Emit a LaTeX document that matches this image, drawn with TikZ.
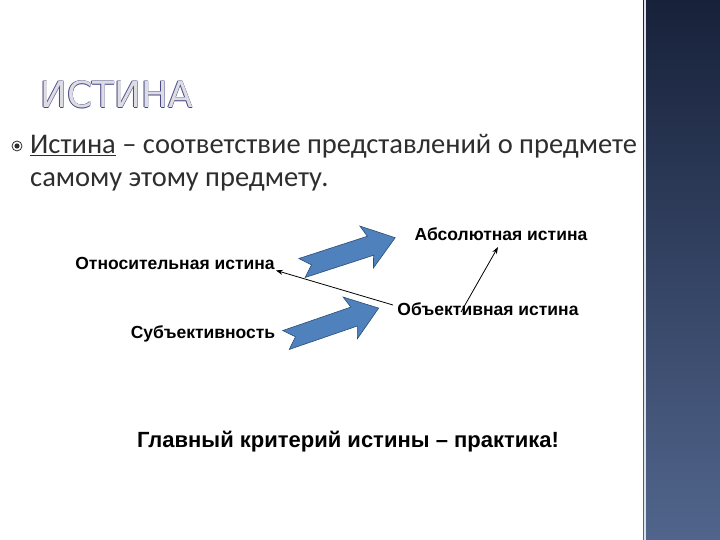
\documentclass[tikz,border=0pt]{standalone}
\usepackage{fontspec}
\setmainfont{Carlito}
\newfontfamily\lab{Liberation Sans}
\newfontfamily\ttl{DejaVu Sans}
\usetikzlibrary{arrows.meta}
\definecolor{txt}{HTML}{2E2E2E}
\definecolor{blk}{HTML}{4F81BD}
\definecolor{blkd}{HTML}{2C4D75}
\definecolor{navyA}{HTML}{17213A}
\definecolor{navyB}{HTML}{51658C}
\tikzset{lbl/.style={font=\lab\bfseries\fontsize{17.5}{19}\selectfont, text=black, inner sep=1pt},
 thin arr/.style={-{Stealth[length=7pt,width=5pt]}, line width=0.8pt, black},
 blockarr/.style={fill=blk, draw=blkd, line width=0.6pt}}
\newcommand{\blockarrow}[3]{% tail x,y, angle
 \begin{scope}[shift={(#1,#2)}, rotate=#3]
  \path[blockarr] (0,-10) -- (72,-10) -- (68,-22) -- (98,0) -- (68,22) -- (72,10) -- (0,10) -- (10,0) -- cycle;
 \end{scope}}
\begin{document}
\begin{tikzpicture}[x=1pt,y=-1pt]
\useasboundingbox (0,0) rectangle (720,540);
\fill[white] (0,0) rectangle (720,540);
\shade[top color=navyA, bottom color=navyB] (643,0) rectangle (720,540);
\draw[white!80!navyB, line width=1.5pt] (645,0) -- (645,540);
% title
\foreach \dx/\dy in {-0.7/0,0.7/0,0/-0.7,0/0.7}
  \node[anchor=base west, inner sep=0, text=gray!70!blue!80!black, font=\ttl\fontsize{36}{38}\selectfont] at (40+\dx,108+\dy) {ИСТИНА};
\node (title) [anchor=base west, inner sep=0, text=blue!10!gray!25, font=\ttl\fontsize{36}{38}\selectfont] at (40,108) {ИСТИНА};
% bullet
\node (bul) [circle, draw=txt, line width=0.8pt, minimum size=10pt, inner sep=0] at (17,146) {};
\fill[txt] (bul.center) circle (2.6pt);
\node (l1) [anchor=base west, inner sep=0, text=txt, font=\fontsize{28.5}{32}\selectfont] at (30,154) {\underline{Истина} – соответствие представлений о предмете};
\node (l2) [anchor=base west, inner sep=0, text=txt, font=\fontsize{28.5}{32}\selectfont] at (30,187) {самому этому предмету.};
% labels
\node[lbl] (abs) at (501,234) {Абсолютная истина};
\node[lbl] (otn) at (175,263) {Относительная истина};
\node[lbl] (obj) at (488,309) {Объективная истина};
\node[lbl] (sub) at (203,334) {Субъективность};
\node (main) [anchor=base, inner sep=0, font=\lab\bfseries\fontsize{22}{24}\selectfont] at (348,447) {Главный критерий истины – практика!};
% block arrows
\blockarrow{302}{268}{18}
\blockarrow{286}{340}{19}
% thin arrows
\coordinate (objL) at (393,305);
\coordinate (objU) at (461,312);
\draw[thin arr] (objL) -- (otn.south east);
\draw[thin arr] (objU) -- (498,247);
\end{tikzpicture}
\end{document}
